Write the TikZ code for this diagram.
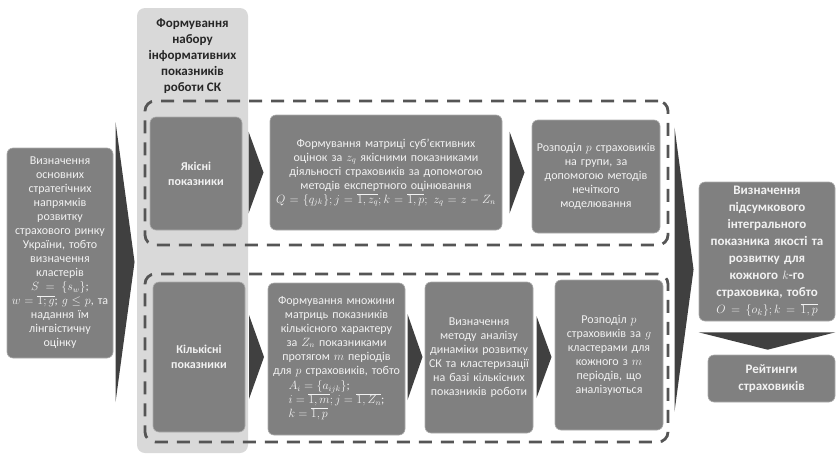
\documentclass[tikz,border=0pt]{standalone}
\usepackage{fontspec}
\setmainfont{Carlito}
\usepackage{xcolor}
\usetikzlibrary{calc}
\definecolor{boxgray}{HTML}{808080}
\definecolor{colgray}{HTML}{D9D9D9}
\definecolor{chevgray}{HTML}{404040}
\definecolor{framegray}{HTML}{555555}
\definecolor{txtlight}{HTML}{F2F2F2}

% triangle pointer between two nodes: from, to, tip height, half height, half width
\newcommand{\chev}[5]{%
  \fill[chevfill] let \p1=(#1.east), \p2=(#2.west), \p3=(#3) in
    ({0.5*(\x1+\x2)-#5pt},{\y3+#4pt}) -- ({0.5*(\x1+\x2)+#5pt},\y3)
    -- ({0.5*(\x1+\x2)-#5pt},{\y3-#4pt}) -- cycle;}

\tikzset{
  box/.style={rectangle, rounded corners=6pt, fill=boxgray, draw=gray!65,
    line width=0.6pt, text=txtlight, align=center, inner sep=1pt,
    font=\fontsize{12}{14}\selectfont},
  kindbox/.style={box, font=\bfseries\fontsize{12}{15}\selectfont},
  resbox/.style={box, font=\bfseries\fontsize{13}{17}\selectfont},
  framebox/.style={rectangle, draw=framegray, line width=2.8pt,
    dash pattern=on 13pt off 9pt, rounded corners=10pt},
  chevfill/.style={fill=chevgray}
}

\begin{document}
\begin{tikzpicture}[x=1pt,y=-1pt]
    \useasboundingbox (0,0) rectangle (838,453);

    % column of indicators
    \node[rectangle, rounded corners=8pt, fill=colgray, minimum width=111pt,
      minimum height=445pt] (col) at (192.5,230.5) {};
    \node[font=\bfseries\fontsize{13}{16}\selectfont, align=center,
      text=black!85] (head) at (192.5,56) {Формування\\ набору\\ інформативних\\ показників\\ роботи СК};

    % dashed groups
    \node[framebox, minimum width=523pt, minimum height=144pt] (qualfr) at (406.5,173) {};
    \node[framebox, minimum width=523pt, minimum height=168pt] (quanfr) at (406.5,358) {};

    % start
    \node[box, minimum width=106pt, minimum height=210pt, text width=104pt] (lbox) at (60,253)
      {Визначення\\ основних\\ стратегічних\\ напрямків\\ розвитку\\ страхового ринку\\ України, тобто\\ визначення\\ кластерів\\ $S=\{s_w\}$;\\ $w=\overline{1;g}$; $g\le p$, та\\ надання їм\\ лінгвістичну\\ оцінку};

    % qualitative row
    \node[kindbox, minimum width=92pt, minimum height=113pt, text width=88pt] (yak) at (196,173.5)
      {Якісні\\ показники};
    \node[box, minimum width=232pt, minimum height=115pt, text width=230pt] (qmat) at (386,172.5)
      {Формування матриці суб’єктивних\\ оцінок за $z_q$ якісними показниками\\ діяльності страховиків за допомогою\\ методів експертного оцінювання\\ $Q=\{q_{jk}\}; j=\overline{1,z_q}; k=\overline{1,p};\ z_q=z-Z_n$};
    \node[box, minimum width=128pt, minimum height=113pt, text width=126pt] (qgrp) at (596,176.5)
      {Розподіл $p$ страховиків\\ на групи, за\\ допомогою методів\\ нечіткого\\ моделювання};

    % quantitative row
    \node[kindbox, minimum width=92pt, minimum height=150pt, text width=88pt] (kil) at (199,357)
      {Кількісні\\ показники};
    \node[box, minimum width=137pt, minimum height=152pt, text width=135pt] (kmat) at (336.5,359)
      {Формування множини\\ матриць показників\\ кількісного характеру\\ за $Z_n$ показниками\\ протягом $m$ періодів\\ для $p$ страховиків, тобто\\[2pt]
       \begin{tabular}{@{}l@{}}$A_i=\{a_{ijk}\}$;\\ $i=\overline{1,m}; j=\overline{1,Z_n}$;\\ $k=\overline{1,p}$\end{tabular}};
    \node[box, minimum width=108pt, minimum height=151pt, text width=106pt] (kmeth) at (479,357.5)
      {Визначення\\ методу аналізу\\ динаміки розвитку\\ СК та кластеризації\\ на базі кількісних\\ показників роботи};
    \node[box, minimum width=108pt, minimum height=150pt, text width=106pt] (kgrp) at (609,355)
      {Розподіл $p$\\ страховиків за $g$\\ кластерами для\\ кожного з $m$\\ періодів, що\\ аналізуються};

    % result
    \node[resbox, minimum width=136pt, minimum height=139pt, text width=134pt] (fin) at (767,251.5)
      {Визначення\\ підсумкового\\ інтегрального\\ показника якості та\\ розвитку для\\ кожного $k$-го\\ страховика, тобто\\ $O=\{o_k\}; k=\overline{1,p}$};
    \node[resbox, minimum width=127pt, minimum height=47pt, text width=125pt] (rate) at (771.5,378.5)
      {Рейтинги\\ страховиків};

    % pointers
    \chev{lbox}{col}{$(lbox)+(0,9)$}{140}{9.5}
    \chev{yak}{qmat}{qmat}{41}{7.5}
    \chev{qmat}{qgrp}{qmat}{41}{7.5}
    \chev{kil}{kmat}{kil}{42}{7.5}
    \chev{kmat}{kmeth}{kil}{43}{7.5}
    \chev{kmeth}{kgrp}{kil}{41}{7.5}
    \chev{qualfr}{fin}{$(fin)+(0,18)$}{142}{9.5}
    \fill[chevfill] let \p1=(fin.south west), \p2=(fin.south east), \p3=(rate.north) in
      (\x1,\y1-11pt) -- (\x2,\y1-11pt) -- (\x1+69pt,\y3+5pt) -- cycle;
\end{tikzpicture}
\end{document}
